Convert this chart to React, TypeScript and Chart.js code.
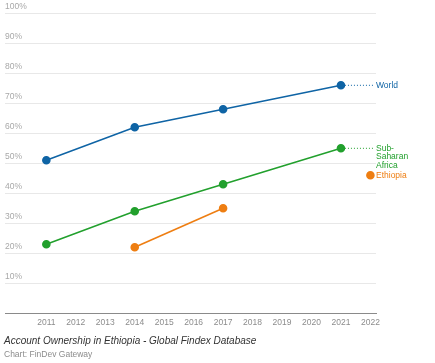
import React, { useEffect, useRef } from "react";
import { Chart, registerables } from "chart.js";

Chart.register(...registerables);

const seriesYears = [2011, 2014, 2017, 2021];
const worldValues = [51, 62, 68, 76];
const ssaValues = [23, 34, 43, 55];
const ethiopiaYears = [2014, 2017];
const ethiopiaValues = [22, 35];
const ethiopiaMarkerYears = [2022];
const ethiopiaMarkerValues = [46];
const xTickYears = [2011, 2012, 2013, 2014, 2015, 2016, 2017, 2018, 2019, 2020, 2021, 2022];
const yTickValues = [0, 10, 20, 30, 40, 50, 60, 70, 80, 90, 100];
const seriesLabels = [["World"], ["Sub-", "Saharan", "Africa"], ["Ethiopia"]];

const BLUE = "#0f64a5";
const GREEN = "#22a02d";
const ORANGE = "#ee7e12";
const FONT = '"Liberation Sans", Arial, Helvetica, sans-serif';

const pts = (xs: number[], ys: number[]) => xs.map((x, i) => ({ x, y: ys[i] }));

const endLabels = {
  id: "endLabels",
  afterDatasetsDraw(chart: any) {
    const ctx = chart.ctx;
    const area = chart.chartArea;
    const cfg = [
      { ds: 0, lines: seriesLabels[0], color: BLUE, dotted: true },
      { ds: 1, lines: seriesLabels[1], color: GREEN, dotted: true },
      { ds: 3, lines: seriesLabels[2], color: ORANGE, dotted: false },
    ];
    ctx.save();
    ctx.font = `8.5px ${FONT}`;
    ctx.textBaseline = "middle";
    ctx.textAlign = "left";
    for (const c of cfg) {
      const meta = chart.getDatasetMeta(c.ds);
      const p = meta.data[meta.data.length - 1];
      if (!p) continue;
      if (c.dotted) {
        ctx.strokeStyle = c.color;
        ctx.lineWidth = 1;
        ctx.setLineDash([1, 2]);
        ctx.beginPath();
        ctx.moveTo(p.x + 4, p.y);
        ctx.lineTo(area.right - 3, p.y);
        ctx.stroke();
        ctx.setLineDash([]);
      }
      ctx.fillStyle = c.color;
      c.lines.forEach((t: string, i: number) => {
        ctx.fillText(t, area.right, p.y + i * 8.5);
      });
    }
    ctx.restore();
  },
};

export default function App() {
  const ref = useRef<HTMLCanvasElement | null>(null);
  useEffect(() => {
    document.body.style.margin = "0";
    if (!ref.current) return;
    const lineDs = (label: string, data: any[], color: string) => ({
      label,
      data,
      borderColor: color,
      backgroundColor: color,
      pointBackgroundColor: color,
      pointBorderColor: color,
      borderWidth: 1.6,
      pointRadius: 3.5,
      pointHoverRadius: 3.5,
      tension: 0,
    });
    const chart = new Chart(ref.current, {
      type: "line",
      data: {
        datasets: [
          lineDs("World", pts(seriesYears, worldValues), BLUE),
          lineDs("Sub-Saharan Africa", pts(seriesYears, ssaValues), GREEN),
          lineDs("Ethiopia", pts(ethiopiaYears, ethiopiaValues), ORANGE),
          { ...lineDs("Ethiopia marker", pts(ethiopiaMarkerYears, ethiopiaMarkerValues), ORANGE), showLine: false },
        ],
      },
      options: {
        animation: false,
        responsive: false,
        maintainAspectRatio: false,
        layout: { padding: { left: 4, right: 59, top: 13.3, bottom: 32.7 } },
        plugins: { legend: { display: false }, tooltip: { enabled: false }, title: { display: false } },
        scales: {
          x: {
            type: "linear",
            min: 2009.6,
            max: 2022.19,
            grid: { display: false, drawTicks: false },
            border: { display: true, color: "#8a8a8a", width: 1 },
            afterBuildTicks: (scale: any) => {
              scale.ticks = xTickYears.map((v) => ({ value: v }));
            },
            afterFit: (scale: any) => {
              scale.height = 17;
            },
            ticks: {
              padding: 4,
              autoSkip: false,
              maxRotation: 0,
              color: "#8c8c8c",
              font: { family: FONT, size: 8.5 },
              callback: (v: any) => String(v),
            },
          },
          y: {
            type: "linear",
            min: 0,
            max: 100,
            grid: { color: "#e8e8e8", lineWidth: 1, drawTicks: false },
            border: { display: false },
            afterBuildTicks: (scale: any) => {
              scale.ticks = yTickValues.map((v) => ({ value: v }));
            },
            afterFit: (scale: any) => {
              scale.width = 0;
            },
            ticks: {
              mirror: true,
              padding: 0,
              labelOffset: -7,
              color: "#a8a8a8",
              font: { family: FONT, size: 8.5 },
              callback: (v: any) => (v === 0 ? "" : `${v}%`),
            },
          },
        },
      },
      plugins: [endLabels],
    });
    return () => chart.destroy();
  }, []);

  return (
    <div style={{ position: "relative", width: 435, height: 363, background: "#fff", fontFamily: FONT }}>
      <canvas ref={ref} width={435} height={363} style={{ position: "absolute", left: 0, top: 0 }} />
      <div
        style={{
          position: "absolute",
          left: 4,
          top: 335,
          fontSize: 10,
          fontStyle: "italic",
          color: "#333",
          whiteSpace: "nowrap",
          lineHeight: "12px",
        }}
      >
        Account Ownership in Ethiopia - Global Findex Database
      </div>
      <div
        style={{
          position: "absolute",
          left: 4,
          top: 349,
          fontSize: 8.5,
          color: "#8c8c8c",
          whiteSpace: "nowrap",
          lineHeight: "11px",
        }}
      >
        Chart: FinDev Gateway
      </div>
    </div>
  );
}
